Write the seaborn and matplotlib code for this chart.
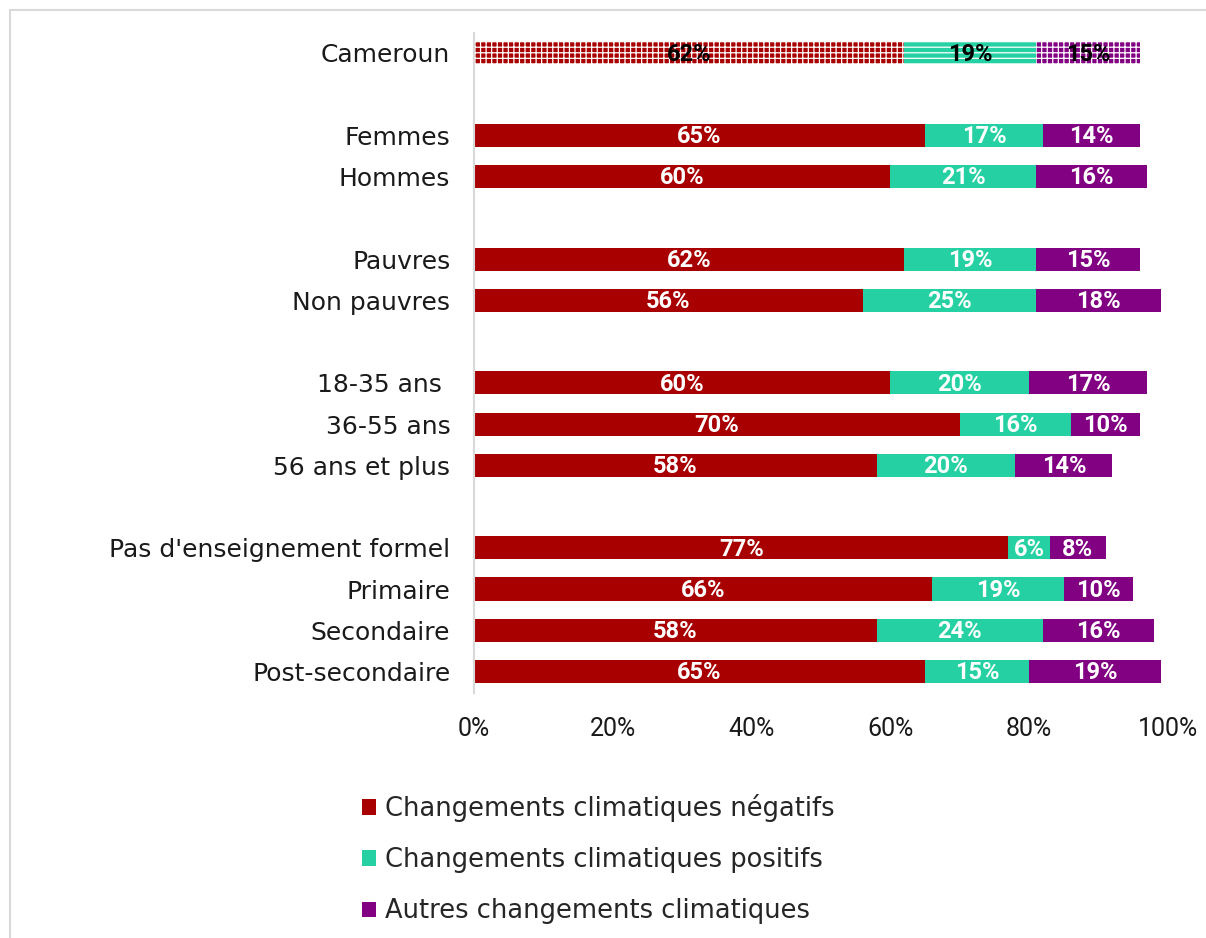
import matplotlib
matplotlib.use("Agg")
import matplotlib.pyplot as plt
from matplotlib.patches import Patch, Rectangle
from matplotlib.ticker import PercentFormatter
import numpy as np
import pandas as pd
import seaborn as sns

# Survey breakdown by sub-group (percent of respondents)
groups = [
    ["Cameroun"],
    ["Femmes", "Hommes"],
    ["Pauvres", "Non pauvres"],
    ["18-35 ans ", "36-55 ans", "56 ans et plus"],
    ["Pas d'enseignement formel", "Primaire", "Secondaire", "Post-secondaire"],
]
negatifs = [62, 65, 60, 62, 56, 60, 70, 58, 77, 66, 58, 65]
positifs = [19, 17, 21, 19, 25, 20, 16, 20, 6, 19, 24, 15]
autres = [15, 14, 16, 15, 18, 17, 10, 14, 8, 10, 16, 19]

series_names = [
    "Changements climatiques négatifs",
    "Changements climatiques positifs",
    "Autres changements climatiques",
]
colors = ["#A80000", "#25D1A2", "#820082"]
xticks = [0, 20, 40, 60, 80, 100]

# row positions: one blank row between groups
categories, ypos = [], []
pos = 0
for g in groups:
    for c in g:
        categories.append(c)
        ypos.append(pos)
        pos += 1
    pos += 1

df = pd.DataFrame({
    "cat": categories,
    "y": ypos,
    "neg": negatifs,
    "pos": positifs,
    "aut": autres,
})
df["c1"] = df["neg"]
df["c2"] = df["neg"] + df["pos"]
df["c3"] = df["neg"] + df["pos"] + df["aut"]

sns.set_theme(style="white")
plt.rcParams["font.family"] = ["DejaVu Sans"]
plt.rcParams["hatch.linewidth"] = 0.9

fig = plt.figure(figsize=(12.06, 9.38), dpi=100)
ax = fig.add_axes([0.393, 0.2612, 0.5755, 0.7036])

# stacked bars drawn as overlapping cumulative totals
bar_h = 0.56
for col, color in zip(["c3", "c2", "c1"], colors[::-1]):
    sns.barplot(data=df, x=col, y="y", orient="y", native_scale=True,
                color=color, width=bar_h, saturation=1, linewidth=0,
                errorbar=None, ax=ax)

# hatched styling for the national total row
hatches = {colors[0]: "+++", colors[1]: "---", colors[2]: "+++"}
first_y = df["y"].iloc[0]
for p in ax.patches:
    yc = p.get_y() + p.get_height() / 2
    if abs(yc - first_y) < 0.3:
        fc = matplotlib.colors.to_hex(p.get_facecolor())
        for c in colors:
            if fc.lower() == c.lower():
                p.set_edgecolor("white")
                p.set_hatch(hatches[c])
                p.set_linewidth(0)

# value labels centred in each segment
label_font = dict(family=["Roboto", "DejaVu Sans"],
                  fontsize=17, fontweight="bold")
for i, row in df.iterrows():
    lefts = [0, row["neg"], row["neg"] + row["pos"]]
    vals = [row["neg"], row["pos"], row["aut"]]
    tc = "black" if i == 0 else "white"
    for l, v in zip(lefts, vals):
        ax.text(l + v / 2, row["y"] + 0.03, f"{v}%", ha="center", va="center",
                color=tc, **label_font)

ax.set_xlim(0, 100)
ax.set_ylim(pos - 1 - 0.5 + 0.02, -0.48)
ax.set_xticks(xticks)
ax.xaxis.set_major_formatter(PercentFormatter(decimals=0))
ax.set_yticks(df["y"])
ax.set_yticklabels(df["cat"], fontsize=18, color="#1a1a1a")
for t in ax.get_xticklabels():
    t.set_fontfamily(["Roboto", "DejaVu Sans"])
    t.set_fontsize(18)
    t.set_color("#1a1a1a")
ax.tick_params(axis="y", length=0, pad=17)
ax.tick_params(axis="x", length=0, pad=17)
ax.set_xlabel("")
ax.set_ylabel("")
for s in ["top", "right", "bottom"]:
    ax.spines[s].set_visible(False)
ax.spines["left"].set_color("#D9D9D9")
ax.spines["left"].set_linewidth(1.5)

# legend
handles = [Patch(facecolor=c, edgecolor="none") for c in colors]
fig.legend(handles, series_names, loc="upper left",
           bbox_to_anchor=(362 / 1206, 1 - 794 / 938), frameon=False,
           fontsize=18.5, handlelength=0.55, handleheight=0.55,
           handletextpad=0.35, labelspacing=0.98, borderaxespad=0,
           borderpad=0)

# chart frame
fig.patches.append(Rectangle((10 / 1206, -0.05), 1.1, 1 - 10 / 938 + 0.05,
                             transform=fig.transFigure, fill=False,
                             edgecolor="#D9D9D9", linewidth=1.5))

fig.savefig("out.png", dpi=100)
